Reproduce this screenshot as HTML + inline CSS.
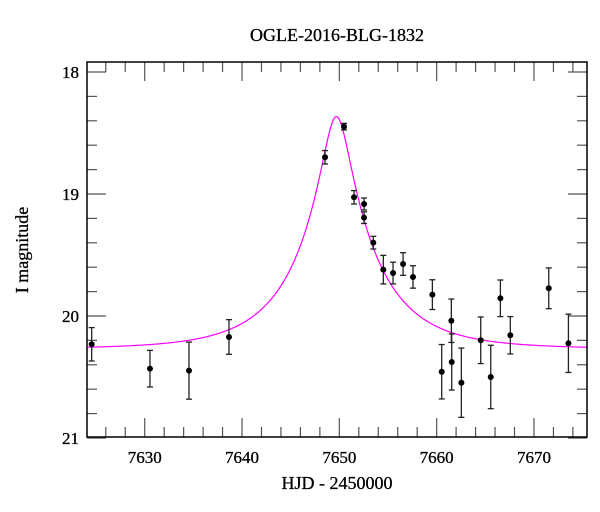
<!DOCTYPE html>
<html><head><meta charset="utf-8"><style>
body{margin:0;background:#fff}
svg{display:block}
text{font-family:"Liberation Serif","DejaVu Serif",serif;fill:#000}
</style></head><body>
<svg id="chart" width="600" height="512" viewBox="0 0 600 512" xmlns="http://www.w3.org/2000/svg">
<text x="337" y="41" font-size="18" text-anchor="middle" stroke="#000" stroke-width="0.3">OGLE-2016-BLG-1832</text>
<text x="337" y="489" font-size="18" text-anchor="middle" stroke="#000" stroke-width="0.3">HJD - 2450000</text>
<text x="0" y="0" font-size="18" text-anchor="middle" stroke="#000" stroke-width="0.3" transform="translate(28,250) rotate(-90)">I magnitude</text>
<g id="ticks"></g>
<g id="labels"></g>
<path id="model" fill="none" stroke="#ff00ff" stroke-width="1.2"/>
<g id="points"></g>
<rect x="87" y="62" width="500" height="375" fill="none" stroke="#000" stroke-width="1.5"/>
</svg>
<script>
const days = [7624.55,7630.54,7634.55,7638.66,7648.53,7650.48,7651.51,7652.54,7652.54,7653.49,7654.52,7655.52,7656.55,7657.57,7659.56,7660.52,7661.51,7661.55,7662.54,7664.53,7665.56,7666.55,7667.57,7671.52,7673.54];
const mags = [20.232,20.432,20.448,20.172,18.699,18.448,19.027,19.082,19.194,19.399,19.620,19.648,19.574,19.680,19.825,20.457,20.039,20.377,20.547,20.199,20.500,19.855,20.158,19.773,20.224];
const errs = [0.137,0.150,0.234,0.142,0.055,0.027,0.055,0.049,0.048,0.052,0.117,0.089,0.093,0.092,0.122,0.223,0.178,0.230,0.284,0.191,0.260,0.150,0.153,0.167,0.239];
const modelParams = [7649.7, 0.175, 7.9, 20.27]; // t0, u0, tE, baseline
const xTickLabels = ["7630","7640","7650","7660","7670"];
const yTickLabels = ["18","19","20","21"];

const X0=87,X1=587,Y0=62,Y1=437;
const xMin=7624.07,xMax=7675.45,yTop=17.918,yBot=20.992;
const sx=d=>X0+(d-xMin)/(xMax-xMin)*(X1-X0);
const sy=m=>Y0+(m-yTop)/(yBot-yTop)*(Y1-Y0);
const NS="http://www.w3.org/2000/svg";
function mk(t,a,p){const e=document.createElementNS(NS,t);for(const k in a)e.setAttribute(k,a[k]);p.appendChild(e);return e;}

const tg=document.getElementById('ticks');
const lg=document.getElementById('labels');
for(let d=7626;d<=7674;d+=2){
  const x=sx(d);const major=d%10===0;const L=major?19:10;
  let e=mk('line',{x1:x,x2:x,y1:Y1,y2:Y1-L,stroke:'#555','stroke-width':1.2},tg);
  
  
  e=mk('line',{x1:x,x2:x,y1:Y0,y2:Y0+L,stroke:'#555','stroke-width':1.2},tg);
  
  
}
xTickLabels.forEach(s=>{
  const e=mk('text',{x:sx(+s),y:463,'font-size':17,'text-anchor':'middle',stroke:'#000','stroke-width':0.3},lg);
  e.textContent=s;
  
  
});
for(let i=0;i<=15;i++){
  const m=18+i*0.2;const y=sy(m);const major=i%5===0;const L=major?19:10;
  let e=mk('line',{x1:X0,x2:X0+L,y1:y,y2:y,stroke:'#555','stroke-width':1.2},tg);
  
  
  e=mk('line',{x1:X1,x2:X1-L,y1:y,y2:y,stroke:'#555','stroke-width':1.2},tg);
  
  
}
yTickLabels.forEach(s=>{
  const e=mk('text',{x:79,y:sy(+s)+6,'font-size':17,'text-anchor':'end',stroke:'#000','stroke-width':0.3},lg);
  e.textContent=s;
  
  
});

// model curve
const [t0,u0,tE,base]=modelParams;
let dstr='';
for(let x=X0;x<=X1;x+=1){
  const t=xMin+(x-X0)/(X1-X0)*(xMax-xMin);
  const tau=(t-t0)/tE;const u=Math.sqrt(u0*u0+tau*tau);
  const A=(u*u+2)/(u*Math.sqrt(u*u+4));
  const m=base-2.5*Math.log10(A);
  dstr+=(x===X0?'M':'L')+x.toFixed(1)+','+sy(m).toFixed(2);
}
document.getElementById('model').setAttribute('d',dstr);

const pg=document.getElementById('points');
days.forEach((d,i)=>{
  const x=sx(d),y=sy(mags[i]),ya=sy(mags[i]-errs[i]),yb=sy(mags[i]+errs[i]);
  const g=mk('g',{},pg);
  
  
  mk('line',{x1:x,x2:x,y1:ya,y2:yb,stroke:'#222','stroke-width':1.3},g);
  mk('line',{x1:x-3,x2:x+3,y1:ya,y2:ya,stroke:'#222','stroke-width':1.3},g);
  mk('line',{x1:x-3,x2:x+3,y1:yb,y2:yb,stroke:'#222','stroke-width':1.3},g);
  mk('circle',{cx:x,cy:y,r:3,fill:'#000'},g);
});
</script>
</body></html>
